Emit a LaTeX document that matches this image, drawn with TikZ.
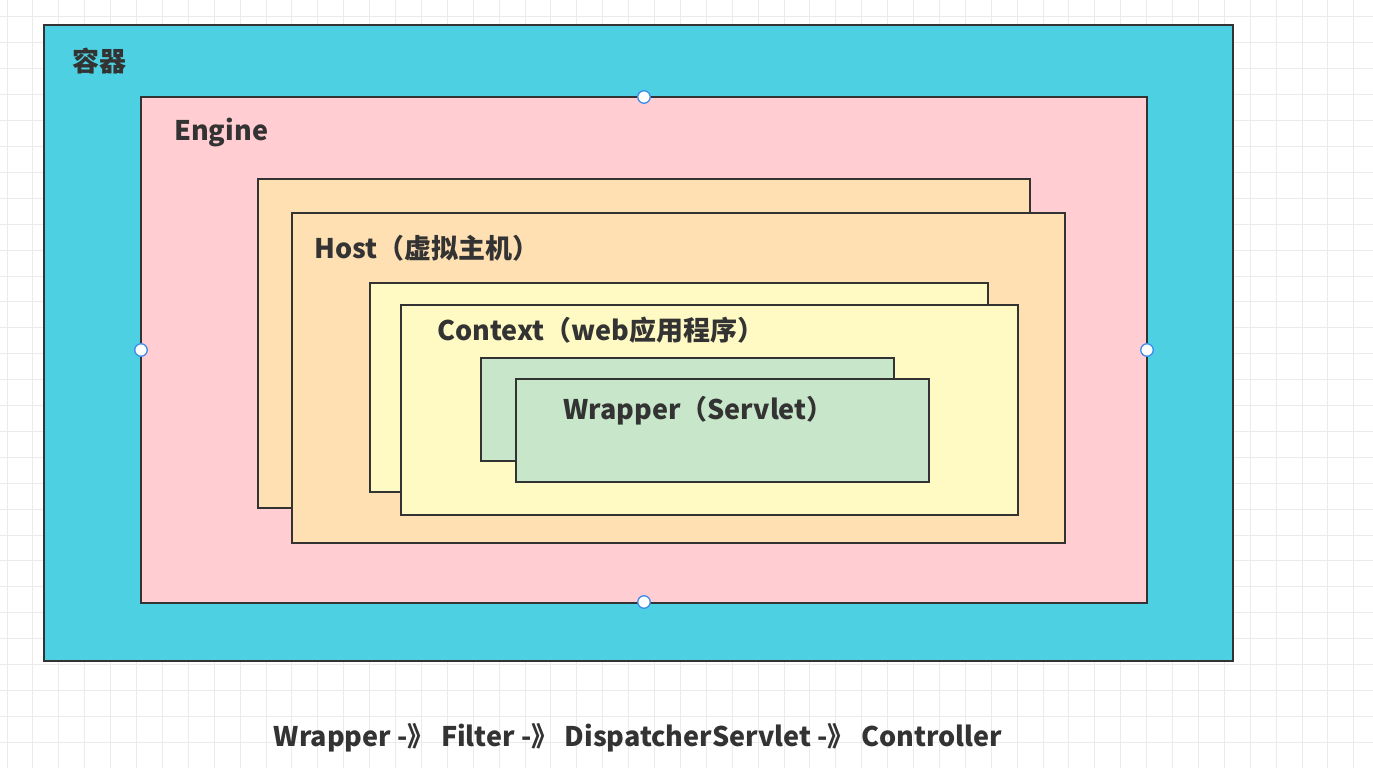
\documentclass[tikz,border=0pt]{standalone}
\usepackage{fontspec}
\setmainfont{Noto Sans CJK SC}
\usepackage{tikz}
\usetikzlibrary{positioning}
\definecolor{ink}{HTML}{333333}
\definecolor{gridc}{HTML}{EBEBEB}
\definecolor{ocean}{HTML}{4DD0E1}
\definecolor{blush}{HTML}{FFCDD2}
\definecolor{peach}{HTML}{FFE0B2}
\definecolor{cream}{HTML}{FFF9C4}
\definecolor{mint}{HTML}{C8E6C9}
\definecolor{handle}{HTML}{3D8BEB}

\tikzset{
  layer/.style={draw=ink,line width=2.4pt},
  tag/.style={anchor=west,inner sep=0pt,text=ink,font=\fontsize{27}{31}\selectfont\bfseries},
  grab/.style={circle,draw=handle,fill=white,line width=1.3pt,minimum size=12.5pt,inner sep=0pt},
}

\begin{document}
\begin{tikzpicture}[x=1pt,y=-1pt]
        \useasboundingbox[fill=white] (0,0) rectangle (1373,768);
        % background grid
        \foreach \gx in {0,...,52}
          \draw[gridc,line width=1pt] (7+25.9*\gx,0) -- (7+25.9*\gx,768);
        \foreach \gy in {0,...,29}
          \draw[gridc,line width=1pt] (0,17+25.9*\gy) -- (1373,17+25.9*\gy);
        % nested containers
        \draw[layer,fill=ocean] (44,25) rectangle (1233,661);
        \draw[layer,fill=blush] (141,97) rectangle (1147,603);
        \foreach \xa/\ya/\xb/\yb/\col in {258/179/1030/508/peach,292/213/1065/543/peach,
            370/283/988/492/cream,401/305/1018/515/cream,
            481/358/894/461/mint,516/379/929/482/mint}
          \draw[layer,fill=\col] (\xa,\ya) rectangle (\xb,\yb);
        % labels
        \node[tag] (rongqi) at (72,61) {容器};
        \node[tag] (engine) at (174,133) {Engine};
        \node[tag] (host) at (314,248) {Host（虚拟主机）};
        \node[tag] (context) at (437,330) {Context（web应用程序）};
        \node[tag] (wrapper) at (563,411) {Wrapper（Servlet）};
        % selection handles of the engine box
        \foreach \hx/\hy/\hn in {644/97/hn,644/602/hs,141/350/hw,1147/350/he}
          \node[grab] (\hn) at (\hx,\hy) {};
        \node[tag,anchor=center] (chain) at (638,738) {Wrapper -》 Filter -》 DispatcherServlet -》 Controller};
\end{tikzpicture}
\end{document}
